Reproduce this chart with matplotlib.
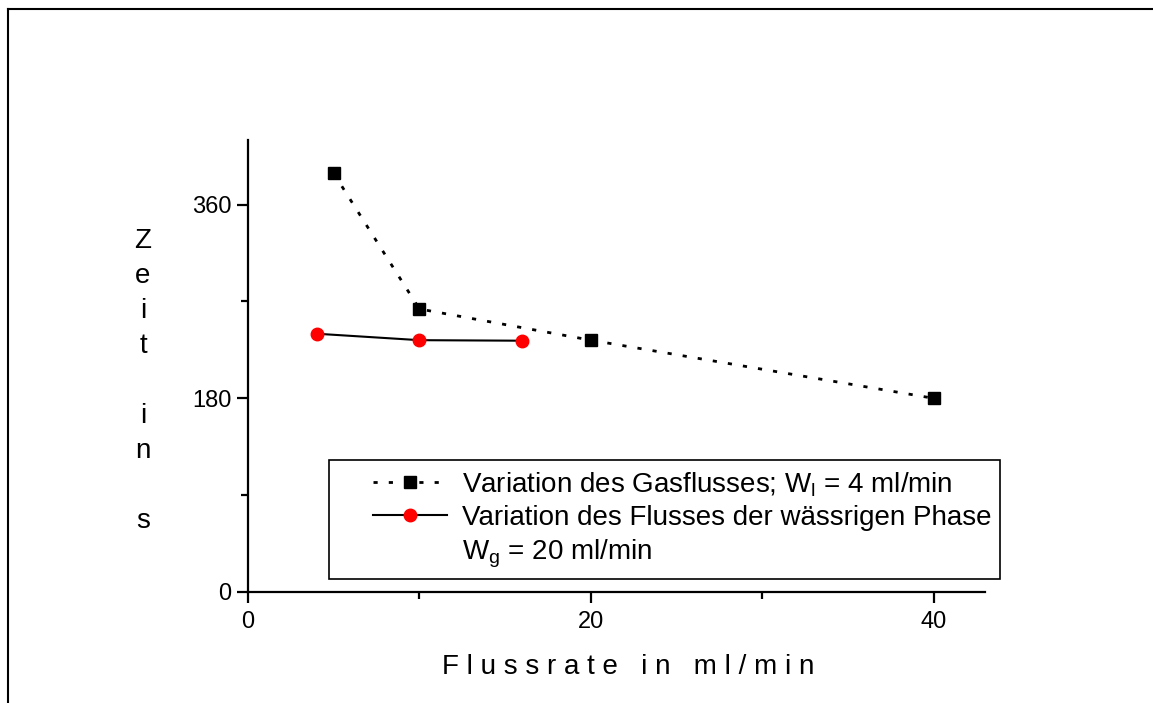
#!/usr/bin/env python3

import matplotlib
matplotlib.use('Agg')
import matplotlib.pyplot as plt
from matplotlib.lines import Line2D
from matplotlib.patches import Rectangle
from matplotlib.ticker import MultipleLocator

plt.rcParams['font.family'] = ['Liberation Sans', 'DejaVu Sans']
plt.rcParams['mathtext.fontset'] = 'custom'
plt.rcParams['mathtext.rm'] = 'Liberation Sans'

# Variation des Gasflusses (W_l = 4 ml/min)
gas_x = [5, 10, 20, 40]
gas_y = [389, 263, 234, 180]

# Variation des Flusses der waessrigen Phase (W_g = 20 ml/min)
aq_x = [4, 10, 16]
aq_y = [240, 234, 233.5]

gas_label = 'Variation des Gasflusses; W$_\\mathregular{l}$ = 4 ml/min'
aq_label = 'Variation des Flusses der wässrigen Phase'
aq_label2 = 'W$_\\mathregular{g}$ = 20 ml/min'
xlabel = 'Flussrate in ml/min'
ylabel = 'Zeit in s'

W, H = 1153, 703
fig = plt.figure(figsize=(W / 100, H / 100), dpi=100)
ax = fig.add_axes([248 / W, 1 - 592 / H, (985 - 248) / W, (592 - 140) / H])

dots = (0, (1.5, 4))
ax.plot(gas_x, gas_y, color='black', lw=2, linestyle=dots,
        marker='s', ms=9, mfc='black', mec='black', zorder=3)
ax.plot(aq_x, aq_y, color='black', lw=1.5, linestyle='-',
        marker='o', ms=9, mfc='red', mec='red', zorder=3)

ax.set_xlim(0, 43)
ax.set_ylim(0, 420)
ax.xaxis.set_major_locator(MultipleLocator(20))
ax.xaxis.set_minor_locator(MultipleLocator(10))
ax.yaxis.set_major_locator(MultipleLocator(180))
ax.yaxis.set_minor_locator(MultipleLocator(90))
for s in ['top', 'right']:
    ax.spines[s].set_visible(False)
for s in ['left', 'bottom']:
    ax.spines[s].set_linewidth(1.6)
ax.tick_params(which='major', direction='out', length=8, width=1.6, labelsize=17, pad=4)
ax.tick_params(which='minor', direction='out', length=5, width=1.6)
ax.tick_params(axis='x', which='major', pad=6)

# letter-spaced x label and stacked y label
spaced = '   '.join(' '.join(word) for word in xlabel.split(' '))
fig.text(628 / W, 1 - 667 / H, spaced, fontsize=20, ha='center', va='center')
k = 0
for ch in ylabel:
    fig.text(143 / W, 1 - (241 + 35 * k) / H, ch, fontsize=20, ha='center', va='center')
    k += 1

# legend
handles = [
    Line2D([], [], color='black', lw=2, linestyle=dots, marker='s', ms=9, mfc='black', mec='black'),
    Line2D([], [], color='black', lw=1.5, marker='o', ms=9, mfc='red', mec='red'),
    Line2D([], [], linestyle='none'),
]
fig.add_artist(Rectangle((329 / W, 1 - 579 / H), (1000 - 329) / W, (579 - 460) / H,
                         transform=fig.transFigure, fill=False, ec='black', lw=1.2))
fig.legend(handles, [gas_label, aq_label, aq_label2], loc='upper left',
           bbox_to_anchor=(373 / W, 1 - 470 / H), bbox_transform=fig.transFigure,
           frameon=False, borderpad=0, borderaxespad=0, fontsize=20,
           handlelength=2.65, handletextpad=0.57, labelspacing=0.22)

# outer frame lines
fig.add_artist(Line2D([7.5 / W, 1], [1 - 9 / H, 1 - 9 / H], transform=fig.transFigure, color='black', lw=1.5))
fig.add_artist(Line2D([7.5 / W, 7.5 / W], [0, 1 - 9 / H], transform=fig.transFigure, color='black', lw=1.5))

fig.savefig('out.png', dpi=100)
